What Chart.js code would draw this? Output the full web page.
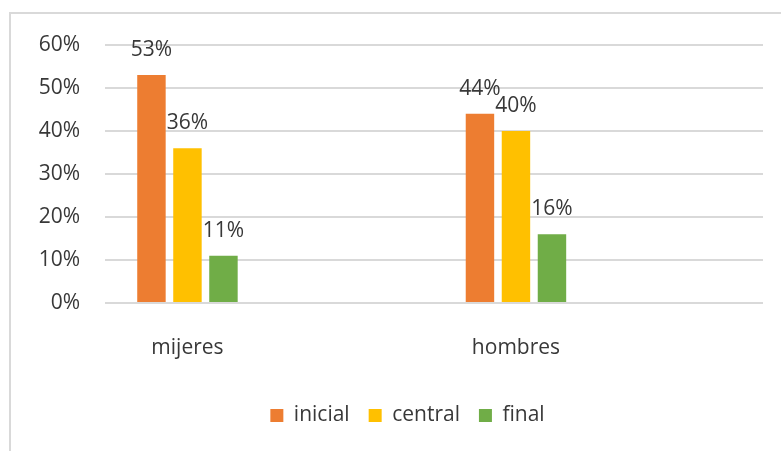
<!DOCTYPE html>
<html lang="es">
<head>
    <meta charset="UTF-8">
    <title>inicial / central / final</title>
    <script src="https://cdn.jsdelivr.net/npm/chart.js"></script>
    <style>
        html, body { margin: 0; padding: 0; background: #fff; }
        #wrap { position: relative; width: 781px; height: 451px; }
        #marco {
            position: absolute; left: 9px; top: 12px; width: 800px; height: 460px;
            border-top: 2px solid #d9d9d9; border-left: 2px solid #d9d9d9;
        }
        canvas { position: absolute; left: 0; top: 0; }
    </style>
</head>
<body>
    <div id="wrap">
        <div id="marco"></div>
        <canvas id="chart1" width="781" height="451"></canvas>
    </div>

    <script>
        // datos
        var categorias = ['mijeres', 'hombres'];
        var series = ['inicial', 'central', 'final'];
        var inicial = [53, 44];
        var central = [36, 40];
        var final = [11, 16];
        var ticksY = [0, 10, 20, 30, 40, 50, 60];

        var colores = ['#ED7D31', '#FFC000', '#70AD47'];
        var valores = [inicial, central, final];
        var fuente = 'Open Sans';
        var gris = '#383838';

        Chart.defaults.font.family = fuente;
        Chart.defaults.font.size = 21;
        Chart.defaults.color = gris;

        // etiquetas de valor encima de cada barra
        var etiquetas = {
            id: 'etiquetas',
            afterDatasetsDraw: function (chart) {
                var ctx = chart.ctx;
                ctx.save();
                ctx.font = '21px "' + fuente + '"';
                ctx.fillStyle = gris;
                ctx.textAlign = 'center';
                ctx.textBaseline = 'alphabetic';
                chart.data.datasets.forEach(function (ds, i) {
                    chart.getDatasetMeta(i).data.forEach(function (bar, j) {
                        ctx.fillText(ds.data[j].y + '%', bar.x, bar.y - 19);
                    });
                });
                ctx.restore();
            }
        };

        // la leyenda original esta un poco a la derecha del centro
        var moverLeyenda = {
            id: 'moverLeyenda',
            afterLayout: function (chart) {
                chart.legend.left += 8;
                chart.legend.right += 8;
            }
        };

        var datasets = series.map(function (nombre, i) {
            return {
                label: nombre,
                data: valores[i].map(function (v, j) { return { x: j, y: v }; }),
                backgroundColor: colores[i],
                categoryPercentage: 0.3288,
                barPercentage: 0.79
            };
        });

        var chart = new Chart(document.getElementById('chart1').getContext('2d'), {
            type: 'bar',
            data: { datasets: datasets },
            plugins: [etiquetas, moverLeyenda],
            options: {
                responsive: false,
                animation: false,
                layout: { padding: { left: 36, right: 18, top: 45, bottom: 15 } },
                plugins: {
                    tooltip: { enabled: false },
                    legend: {
                        position: 'bottom',
                        labels: { boxWidth: 13, boxHeight: 13, padding: 19, color: gris }
                    }
                },
                scales: {
                    x: {
                        type: 'linear',
                        offset: false,
                        min: -0.251,
                        max: 1.752,
                        afterBuildTicks: function (scale) {
                            scale.ticks = categorias.map(function (c, i) { return { value: i }; });
                        },
                        afterFit: function (scale) { scale.height = 83; },
                        grid: { display: false },
                        border: { display: false },
                        ticks: {
                            autoSkip: false,
                            maxRotation: 0,
                            padding: 24,
                            callback: function (v) { return categorias[v]; }
                        }
                    },
                    y: {
                        min: 0,
                        max: 60,
                        afterBuildTicks: function (scale) {
                            scale.ticks = ticksY.map(function (v) { return { value: v }; });
                        },
                        afterFit: function (scale) { scale.width = 69; },
                        grid: { color: '#d9d9d9', lineWidth: 2, drawTicks: false },
                        border: { display: false },
                        ticks: {
                            padding: 25,
                            callback: function (v) { return v + '%'; }
                        }
                    }
                }
            }
        });
    </script>
</body>
</html>
